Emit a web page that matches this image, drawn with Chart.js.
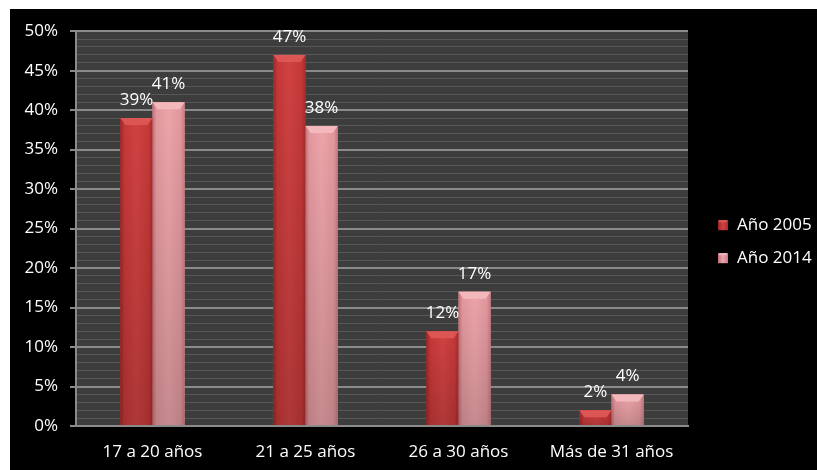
<!DOCTYPE html>
<html>
<head>
<meta charset="utf-8">
<script src="https://cdn.jsdelivr.net/npm/chart.js@4.4.0/dist/chart.umd.min.js"></script>
<style>
  html, body { margin: 0; background: #fff; }
  #wrap { position: absolute; left: 10px; top: 9px; width: 807px; height: 461px; background: #000; }
</style>
</head>
<body>
<div id="wrap"><canvas id="chart"></canvas></div>
<script>
const categories = ["17 a 20 años", "21 a 25 años", "26 a 30 años", "Más de 31 años"];
const seriesNames = ["Año 2005", "Año 2014"];
const year2005 = [39, 47, 12, 2];
const year2014 = [41, 38, 17, 4];

const FONT = "'Open Sans', 'Liberation Sans', sans-serif";
const FONT_SIZE = 17;
const MAJOR = "#8a8a8a";
const MINOR = "#575757";

// edge / middle / edge / top-cap shades for the bevelled bars
const shades = [
  { base: "#c43838", left: "#9c2626", mid: "#d04242", right: "#a82a2a", cap: "#dc5656" },
  { base: "#e2989d", left: "#c07078", mid: "#eca5aa", right: "#c67a82", cap: "#f2b8bc" }
];

const plotBackground = {
  id: "plotBackground",
  beforeDraw(chart) {
    const { ctx, chartArea: a } = chart;
    ctx.save();
    ctx.fillStyle = "#3d3d3d";
    ctx.fillRect(a.left, a.top, a.right - a.left, a.bottom - a.top);
    ctx.restore();
  }
};

const bevelBars = {
  id: "bevelBars",
  afterDatasetsDraw(chart) {
    const ctx = chart.ctx;
    chart.data.datasets.forEach((ds, di) => {
      const s = shades[di];
      chart.getDatasetMeta(di).data.forEach((bar) => {
        const { x, y, base, width } = bar.getProps(["x", "y", "base", "width"], true);
        const l = x - width / 2, r = x + width / 2;
        const g = ctx.createLinearGradient(l, 0, r, 0);
        g.addColorStop(0, s.left);
        g.addColorStop(0.12, s.base);
        g.addColorStop(0.5, s.mid);
        g.addColorStop(0.88, s.base);
        g.addColorStop(1, s.right);
        ctx.save();
        ctx.fillStyle = g;
        ctx.fillRect(l, y, width, base - y);
        // darker toward the base
        const v = ctx.createLinearGradient(0, y, 0, base);
        v.addColorStop(0, "rgba(0,0,0,0)");
        v.addColorStop(1, "rgba(0,0,0,0.16)");
        ctx.fillStyle = v;
        ctx.fillRect(l, y, width, base - y);
        // top bevel
        const cap = Math.min(7, (base - y) / 2);
        ctx.fillStyle = s.cap;
        ctx.beginPath();
        ctx.moveTo(l, y);
        ctx.lineTo(r, y);
        ctx.lineTo(r - 5, y + cap);
        ctx.lineTo(l + 5, y + cap);
        ctx.closePath();
        ctx.fill();
        ctx.restore();
      });
    });
  }
};

const valueLabels = {
  id: "valueLabels",
  afterDatasetsDraw(chart) {
    const ctx = chart.ctx;
    ctx.save();
    ctx.fillStyle = "#ffffff";
    ctx.font = FONT_SIZE + "px " + FONT;
    ctx.textAlign = "center";
    ctx.textBaseline = "middle";
    chart.data.datasets.forEach((ds, di) => {
      chart.getDatasetMeta(di).data.forEach((bar, i) => {
        ctx.fillText(ds.data[i] + "%", bar.x, bar.y - 18);
      });
    });
    ctx.restore();
  }
};

const sideLegend = {
  id: "sideLegend",
  afterDraw(chart) {
    const { ctx, chartArea: a } = chart;
    ctx.save();
    ctx.font = FONT_SIZE + "px " + FONT;
    ctx.textBaseline = "middle";
    seriesNames.forEach((name, i) => {
      const cy = a.top + 194 + i * 33;
      const bx = a.right + 30;
      const s = shades[i];
      const g = ctx.createLinearGradient(bx, 0, bx + 10, 0);
      g.addColorStop(0, s.left);
      g.addColorStop(0.5, s.mid);
      g.addColorStop(1, s.right);
      ctx.fillStyle = g;
      ctx.fillRect(bx, cy - 5, 10, 10);
      ctx.fillStyle = s.cap;
      ctx.fillRect(bx + 1, cy - 5, 8, 2);
      ctx.fillStyle = "#ffffff";
      ctx.fillText(name, bx + 19, cy);
    });
    ctx.restore();
  }
};

new Chart(document.getElementById("chart"), {
  type: "bar",
  data: {
    labels: categories,
    datasets: [
      { label: seriesNames[0], data: year2005, backgroundColor: shades[0].base },
      { label: seriesNames[1], data: year2014, backgroundColor: shades[1].base }
    ]
  },
  options: {
    responsive: true,
    maintainAspectRatio: false,
    animation: false,
    layout: { padding: { left: 0, top: 22, right: 129, bottom: 0 } },
    datasets: { bar: { categoryPercentage: 0.42, barPercentage: 1 } },
    plugins: {
      legend: { display: false },
      tooltip: { enabled: false }
    },
    scales: {
      x: {
        grid: { display: false, drawTicks: false },
        border: { display: true, color: MAJOR, width: 2 },
        ticks: { color: "#ffffff", font: { family: FONT, size: FONT_SIZE }, padding: 16 },
        afterFit: (scale) => { scale.height = 44; }
      },
      y: {
        min: 0,
        max: 50,
        grid: {
          color: (c) => (c.tick.value % 5 === 0 ? MAJOR : MINOR),
          lineWidth: (c) => (c.tick.value % 5 === 0 ? 2 : 1),
          tickColor: (c) => (c.tick.value % 5 === 0 ? MAJOR : "rgba(0,0,0,0)"),
          tickLength: 6
        },
        border: { display: true, color: MAJOR, width: 2 },
        ticks: {
          stepSize: 1,
          autoSkip: false,
          color: "#ffffff",
          font: { family: FONT, size: FONT_SIZE },
          padding: 12,
          callback: (v) => (v % 5 === 0 ? v + "%" : "")
        },
        afterFit: (scale) => { scale.width = 66; }
      }
    }
  },
  plugins: [plotBackground, bevelBars, valueLabels, sideLegend]
});
</script>
</body>
</html>
